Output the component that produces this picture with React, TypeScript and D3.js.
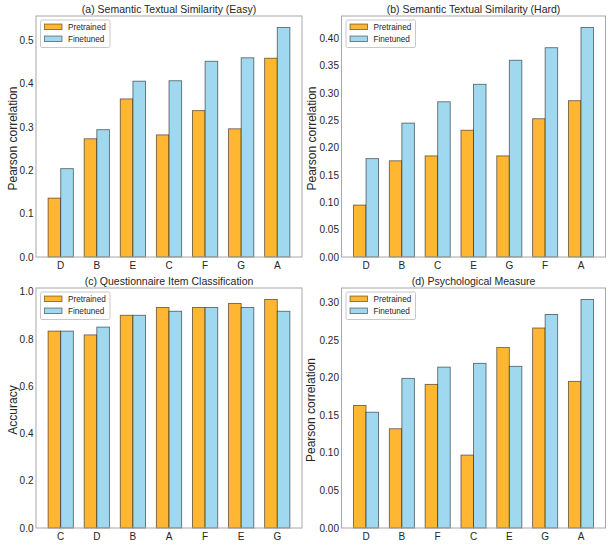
import React from "react";
import * as d3 from "d3";

const catsA = ["D", "B", "E", "C", "F", "G", "A"];
const preA = [0.136, 0.273, 0.365, 0.282, 0.338, 0.296, 0.459];
const fineA = [0.204, 0.294, 0.406, 0.407, 0.452, 0.46, 0.53];

const catsB = ["D", "B", "C", "E", "G", "F", "A"];
const preB = [0.095, 0.176, 0.185, 0.232, 0.185, 0.253, 0.286];
const fineB = [0.18, 0.245, 0.284, 0.316, 0.36, 0.383, 0.42];

const catsC = ["C", "D", "B", "A", "F", "E", "G"];
const preC = [0.833, 0.817, 0.9, 0.933, 0.933, 0.95, 0.967];
const fineC = [0.833, 0.85, 0.9, 0.917, 0.933, 0.933, 0.917];

const catsD = ["D", "B", "F", "C", "E", "G", "A"];
const preD = [0.163, 0.132, 0.191, 0.097, 0.24, 0.266, 0.195];
const fineD = [0.154, 0.199, 0.214, 0.219, 0.215, 0.284, 0.304];

const ticksA = [0, 0.1, 0.2, 0.3, 0.4, 0.5];
const ticksB = [0, 0.05, 0.1, 0.15, 0.2, 0.25, 0.3, 0.35, 0.4];
const ticksC = [0, 0.2, 0.4, 0.6, 0.8, 1.0];
const ticksD = [0, 0.05, 0.1, 0.15, 0.2, 0.25, 0.3];

const seriesNames = ["Pretrained", "Finetuned"];
const colors = ["#FFB733", "#9FD8EF"];

const FONT = "'Liberation Sans', Arial, Helvetica, sans-serif";

type PanelProps = {
  title: string;
  ylabel: string;
  cats: string[];
  pre: number[];
  fine: number[];
  ticks: number[];
  fmt: string;
  x0: number;
  x1: number;
  y0: number;
  y1: number;
  labelX: number;
};

function Panel(p: PanelProps) {
  const n = p.cats.length;
  const w = 0.35;
  const lo = -w;
  const hi = n - 1 + w;
  const m = (hi - lo) * 0.05;
  const x = d3.scaleLinear().domain([lo - m, hi + m]).range([p.x0, p.x1]);
  const ymax = d3.max([...p.pre, ...p.fine]) as number;
  const y = d3.scaleLinear().domain([0, ymax * 1.05]).range([p.y1, p.y0]);
  const f = d3.format(p.fmt);
  const bw = x(w) - x(0);
  const series = [p.pre, p.fine];
  const lx = p.x0 + 4.5;
  const ly = p.y0 + 4;
  return (
    <g>
      {series.map((vals, si) =>
        vals.map((v, i) => {
          const cx = si === 0 ? x(i - w / 2) : x(i + w / 2);
          return (
            <rect
              key={`${si}-${i}`}
              x={cx - bw / 2}
              y={y(v)}
              width={bw}
              height={y(0) - y(v)}
              fill={colors[si]}
              stroke="#000"
              strokeOpacity={0.55}
              strokeWidth={0.9}
            />
          );
        })
      )}
      <rect
        x={p.x0}
        y={p.y0}
        width={p.x1 - p.x0}
        height={p.y1 - p.y0}
        fill="none"
        stroke="#a8a8a8"
        strokeWidth={1}
      />
      {p.ticks.map((t) => (
        <text
          key={t}
          x={p.x0 - 2.5}
          y={y(t)}
          dy="0.36em"
          textAnchor="end"
          fontSize={10}
          fill="#262626"
          fontFamily={FONT}
        >
          {f(t)}
        </text>
      ))}
      {p.cats.map((c, i) => (
        <text
          key={c}
          x={x(i)}
          y={p.y1 + 11.5}
          textAnchor="middle"
          fontSize={10}
          fill="#262626"
          fontFamily={FONT}
        >
          {c}
        </text>
      ))}
      <text
        x={(p.x0 + p.x1) / 2}
        y={p.y0 - 3}
        textAnchor="middle"
        fontSize={10.5}
        fill="#262626"
        fontFamily={FONT}
      >
        {p.title}
      </text>
      <text
        transform={`translate(${p.labelX},${(p.y0 + p.y1) / 2 + 2}) rotate(-90)`}
        textAnchor="middle"
        dy="0.35em"
        fontSize={12}
        fill="#262626"
        fontFamily={FONT}
      >
        {p.ylabel}
      </text>
      <g>
        <rect
          x={lx}
          y={ly}
          width={69.5}
          height={27.5}
          fill="#fff"
          fillOpacity={0.8}
          stroke="#c8c8c8"
          strokeWidth={1}
          rx={1.5}
        />
        {seriesNames.map((s, si) => (
          <g key={s}>
            <rect
              x={lx + 4}
              y={ly + 4.3 + si * 12 - 0.3}
              width={17.5}
              height={5.6}
              fill={colors[si]}
              stroke="#000"
              strokeOpacity={0.55}
              strokeWidth={0.8}
            />
            <text
              x={lx + 27.5}
              y={ly + 7.2 + si * 12}
              dy="0.35em"
              fontSize={8.2}
              fill="#262626"
              fontFamily={FONT}
            >
              {s}
            </text>
          </g>
        ))}
      </g>
    </g>
  );
}

export default function App() {
  return (
    <div style={{ position: "absolute", left: 0, top: 0 }}>
      <svg width={608} height={547} style={{ display: "block", background: "#fff" }}>
        <Panel
          title="(a) Semantic Textual Similarity (Easy)"
          ylabel="Pearson correlation"
          cats={catsA}
          pre={preA}
          fine={fineA}
          ticks={ticksA}
          fmt=".1f"
          x0={36}
          x1={302}
          y0={16}
          y1={257}
          labelX={12.5}
        />
        <Panel
          title="(b) Semantic Textual Similarity (Hard)"
          ylabel="Pearson correlation"
          cats={catsB}
          pre={preB}
          fine={fineB}
          ticks={ticksB}
          fmt=".2f"
          x0={341.5}
          x1={605.5}
          y0={16}
          y1={257}
          labelX={311.5}
        />
        <Panel
          title="(c) Questionnaire Item Classification"
          ylabel="Accuracy"
          cats={catsC}
          pre={preC}
          fine={fineC}
          ticks={ticksC}
          fmt=".1f"
          x0={36}
          x1={302}
          y0={288}
          y1={528}
          labelX={12.5}
        />
        <Panel
          title="(d) Psychological Measure"
          ylabel="Pearson correlation"
          cats={catsD}
          pre={preD}
          fine={fineD}
          ticks={ticksD}
          fmt=".2f"
          x0={341.5}
          x1={605.5}
          y0={288}
          y1={528}
          labelX={311}
        />
      </svg>
    </div>
  );
}
